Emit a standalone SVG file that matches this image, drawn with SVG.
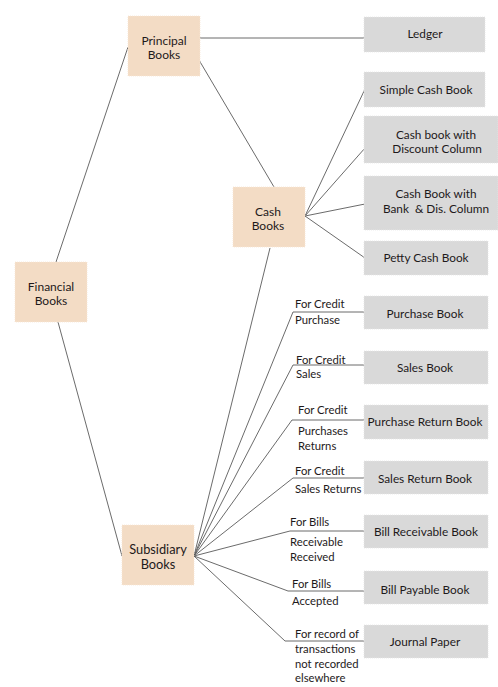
<svg xmlns="http://www.w3.org/2000/svg" width="498" height="687" viewBox="0 0 498 687">
<style>
.peach{fill:#f3dcc5;stroke:#f7e6d4;stroke-width:0.8;stroke-dasharray:1 1}
.gray{fill:#d9d9d9;stroke:#e6e6e6;stroke-width:0.8;stroke-dasharray:1 1}
text{font-family:Lato,"Liberation Sans",sans-serif;font-size:11.3px;fill:#1e1a1b;dominant-baseline:central}
.c{text-anchor:middle;font-size:11.8px}
.p{font-size:12px}
.s{font-size:12.8px}
.conn line,.conn polyline{stroke:#5a5a5a;stroke-width:0.9;fill:none}
</style>
<rect width="498" height="687" fill="#ffffff"/>
<g class="conn" id="connectors">
<line x1="56" y1="262" x2="128" y2="47"/>
<line x1="58" y1="322" x2="122" y2="556"/>
<line x1="200" y1="38" x2="364" y2="38"/>
<line x1="199" y1="60" x2="274" y2="187"/>
<line x1="305" y1="216" x2="365" y2="89"/>
<line x1="305" y1="216" x2="365" y2="148"/>
<line x1="305" y1="216" x2="365" y2="204"/>
<line x1="305" y1="216" x2="365" y2="258"/>
<line x1="270" y1="248" x2="194" y2="556"/>
<polyline points="194,556 293,312 364,312"/>
<polyline points="194,556 293,365 364,365"/>
<polyline points="194,556 292,420 364,420"/>
<polyline points="194,556 293,478 364,478"/>
<polyline points="194,556 290,531 364,531"/>
<polyline points="194,556 288,591 364,591"/>
<polyline points="194,556 285,641 364,641"/>
</g>
<g id="principal"><rect class="peach" x="128" y="16" width="72" height="60"/><text class="c p" x="164" y="40">Principal</text><text class="c p" x="164" y="54">Books</text></g>
<g id="financial"><rect class="peach" x="15" y="262" width="72" height="60"/><text class="c p" x="51" y="286">Financial</text><text class="c p" x="51" y="300">Books</text></g>
<g id="cash"><rect class="peach" x="233" y="187" width="72" height="60"/><text class="c p" x="268" y="211">Cash</text><text class="c p" x="268" y="225">Books</text></g>
<g id="subsidiary"><rect class="peach" x="122" y="525" width="72" height="60"/><text class="c s" x="158" y="549">Subsidiary</text><text class="c s" x="158" y="564">Books</text></g>
<g id="ledger"><rect class="gray" x="364" y="17" width="121" height="35"/><text class="c" x="425" y="33">Ledger</text></g>
<g id="simple"><rect class="gray" x="364" y="72" width="121" height="35"/><text class="c" x="426" y="89">Simple Cash Book</text></g>
<g id="discount"><rect class="gray" x="364" y="116" width="134" height="47"/><text class="c" x="436" y="134">Cash book with</text><text class="c" x="437" y="148">Discount Column</text></g>
<g id="bank"><rect class="gray" x="364" y="176" width="134" height="54"/><text class="c" x="436" y="193">Cash Book with</text><text class="c" x="436" y="208" xml:space="preserve">Bank  &amp; Dis. Column</text></g>
<g id="petty"><rect class="gray" x="364" y="241" width="124" height="34"/><text class="c" x="426" y="257">Petty Cash Book</text></g>
<g id="purchase"><rect class="gray" x="364" y="296" width="124" height="33"/><text class="c" x="425" y="313">Purchase Book</text></g>
<g id="sales"><rect class="gray" x="364" y="351" width="124" height="33"/><text class="c" x="425" y="367">Sales Book</text></g>
<g id="purchasereturn"><rect class="gray" x="364" y="405" width="124" height="34"/><text class="c" x="425" y="421">Purchase Return Book</text></g>
<g id="salesreturn"><rect class="gray" x="364" y="461" width="124" height="33"/><text class="c" x="425" y="478">Sales Return Book</text></g>
<g id="billreceivable"><rect class="gray" x="364" y="515" width="124" height="33"/><text class="c" x="426" y="531">Bill Receivable Book</text></g>
<g id="billpayable"><rect class="gray" x="364" y="571" width="124" height="33"/><text class="c" x="425" y="589">Bill Payable Book</text></g>
<g id="journal"><rect class="gray" x="364" y="625" width="124" height="33"/><text class="c" x="425" y="641">Journal Paper</text></g>
<g id="labels">
<text x="295" y="303">For Credit</text><text x="295" y="319">Purchase</text>
<text x="296" y="359">For Credit</text><text x="296" y="373">Sales</text>
<text x="298" y="409">For Credit</text><text x="298" y="430">Purchases</text><text x="298" y="445">Returns</text>
<text x="295" y="470">For Credit</text><text x="295" y="488">Sales Returns</text>
<text x="290" y="521">For Bills</text><text x="290" y="541">Receivable</text><text x="290" y="556">Received</text>
<text x="292" y="583">For Bills</text><text x="292" y="600">Accepted</text>
<text x="295" y="633">For record of</text><text x="295" y="648">transactions</text><text x="295" y="663">not recorded</text><text x="295" y="677">elsewhere</text>
</g>
</svg>
